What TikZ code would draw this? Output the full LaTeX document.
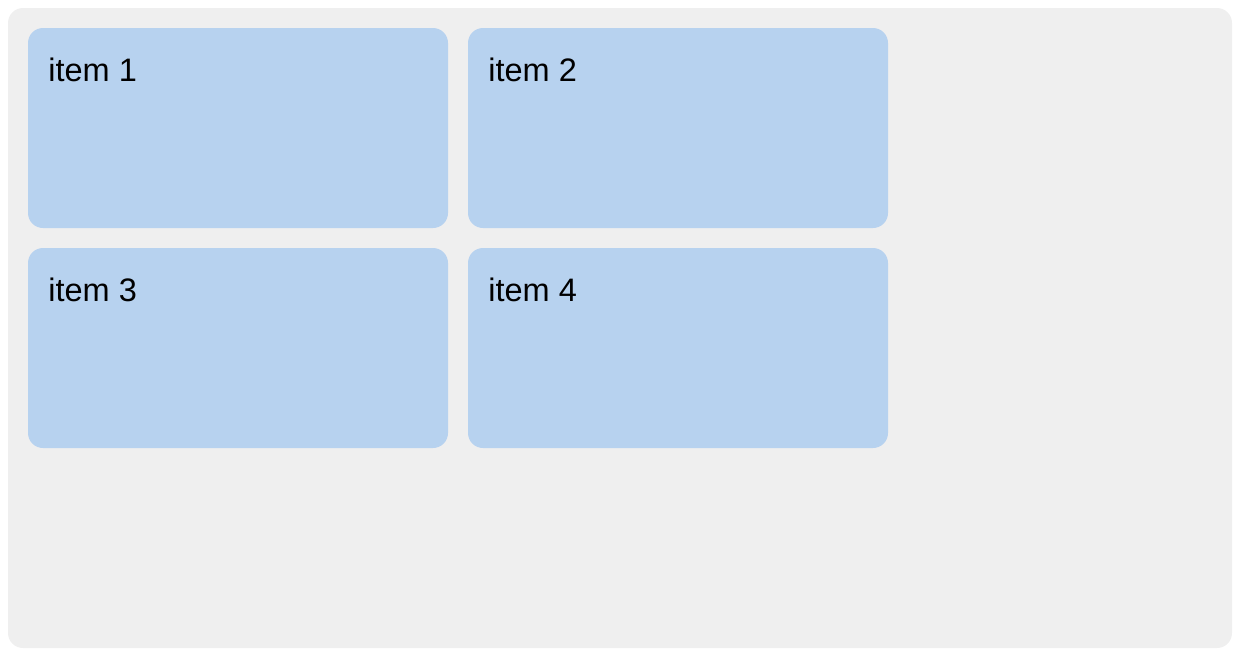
\documentclass[tikz,border=0pt]{standalone}
\usepackage{fontspec}
\setmainfont{Liberation Sans}
\usepackage{tikz}
\usetikzlibrary{positioning}
\definecolor{panelgray}{HTML}{EFEFEF}
\definecolor{itemblue}{HTML}{B7D2EF}
\tikzstyle{panel} = [fill=panelgray, rounded corners=0.3cm]
\tikzstyle{item} = [fill=itemblue, rectangle, rounded corners=0.3cm,
    minimum width=8.4cm, minimum height=4cm, inner sep=0pt, outer sep=0pt]
\tikzstyle{itemlabel} = [anchor=base west, inner sep=0pt, xshift=0.4cm, yshift=-1.06cm,
    font=\fontsize{18.5}{22}\selectfont]

\begin{document}
\begin{tikzpicture}[node distance=0.4cm]
    % page and grey container
    \useasboundingbox (0,0) rectangle (24.8,-13.16);
    \fill [panel] (0.16,-0.16) rectangle (24.64,-12.96);

    % the four grid items
    \node [item, anchor=north west, label={[itemlabel]north west:item 1}] (item1) at (0.56,-0.56) {};
    \node [item, right=of item1, label={[itemlabel]north west:item 2}] (item2) {};
    \node [item, below=of item1, label={[itemlabel]north west:item 3}] (item3) {};
    \node [item, right=of item3, label={[itemlabel]north west:item 4}] (item4) {};
\end{tikzpicture}
\end{document}
